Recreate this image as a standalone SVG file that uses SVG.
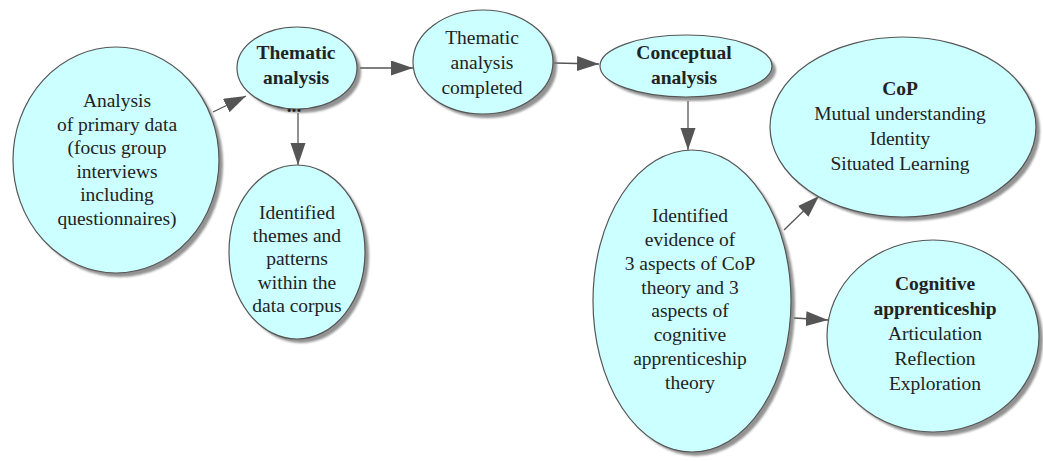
<svg xmlns="http://www.w3.org/2000/svg" width="1043" height="461" viewBox="0 0 1043 461">
<style>
.node{fill:#ccffff;stroke:#555;stroke-width:1.2}
.sh{fill:#777;opacity:0.8}
text{font-family:'Liberation Serif','Times New Roman',Times,serif;font-size:19.5px;fill:#222;text-anchor:middle}
.b{font-weight:bold}
.c{stroke:#555;stroke-width:1.3;fill:none;marker-end:url(#ah)}
</style>
<defs>
<filter id="blur" x="-10%" y="-10%" width="120%" height="120%"><feGaussianBlur stdDeviation="1.2"/></filter>
<marker id="ah" markerUnits="userSpaceOnUse" markerWidth="24" markerHeight="16" refX="22" refY="7.5" orient="auto" viewBox="0 0 24 16">
<path d="M0,0 L22,7.5 L0,15 Z" fill="#555"/>
</marker>
</defs>
<rect width="1043" height="461" fill="#ffffff"/>
<g id="connectors">
<line class="c" x1="213" y1="112" x2="246" y2="96"/>
<line class="c" x1="360" y1="68" x2="413" y2="68"/>
<line class="c" x1="554" y1="63" x2="599" y2="64"/>
<line class="c" x1="298" y1="113" x2="298" y2="165"/>
<line class="c" x1="688" y1="101" x2="688" y2="150"/>
<line class="c" x1="784" y1="230" x2="819" y2="196"/>
<line class="c" x1="794" y1="318" x2="828" y2="320"/>
</g>
<g id="n1">
<ellipse class="sh" cx="120" cy="164" rx="103" ry="113" filter="url(#blur)"/>
<ellipse class="node" cx="116" cy="160" rx="103" ry="113"/>
<text x="117" y="107">Analysis</text>
<text x="117" y="131">of primary data</text>
<text x="117" y="154">(focus group</text>
<text x="117" y="178">interviews</text>
<text x="117" y="201">including</text>
<text x="117" y="225">questionnaires)</text>
</g>
<g id="n2">
<ellipse class="sh" cx="301" cy="72" rx="60" ry="41" filter="url(#blur)"/>
<ellipse class="node" cx="297" cy="68" rx="60" ry="41"/>
<text class="b" x="296" y="59">Thematic</text>
<text class="b" x="296" y="84">analysis</text>
<text class="b" x="294" y="112">...</text>
</g>
<g id="n3">
<ellipse class="sh" cx="487" cy="66" rx="70" ry="52" filter="url(#blur)"/>
<ellipse class="node" cx="483" cy="62" rx="70" ry="52"/>
<text x="482" y="44">Thematic</text>
<text x="482" y="69">analysis</text>
<text x="482" y="94">completed</text>
</g>
<g id="n4">
<ellipse class="sh" cx="690" cy="70" rx="86" ry="31" filter="url(#blur)"/>
<ellipse class="node" cx="686" cy="66" rx="86" ry="31"/>
<text class="b" x="684" y="59">Conceptual</text>
<text class="b" x="684" y="84">analysis</text>
</g>
<g id="n5">
<ellipse class="sh" cx="301" cy="256" rx="68" ry="87" filter="url(#blur)"/>
<ellipse class="node" cx="297" cy="252" rx="68" ry="87"/>
<text x="297" y="219">Identified</text>
<text x="297" y="242">themes and</text>
<text x="297" y="265">patterns</text>
<text x="297" y="289">within the</text>
<text x="297" y="312">data corpus</text>
</g>
<g id="n6">
<ellipse class="sh" cx="696" cy="305" rx="99" ry="151" filter="url(#blur)"/>
<ellipse class="node" cx="692" cy="301" rx="99" ry="151"/>
<text x="690" y="222">Identified</text>
<text x="690" y="246">evidence of</text>
<text x="690" y="270">3 aspects of CoP</text>
<text x="690" y="294">theory and 3</text>
<text x="690" y="317">aspects of</text>
<text x="690" y="341">cognitive</text>
<text x="690" y="365">apprenticeship</text>
<text x="690" y="389">theory</text>
</g>
<g id="n7">
<ellipse class="sh" cx="907" cy="131" rx="133" ry="90" filter="url(#blur)"/>
<ellipse class="node" cx="903" cy="127" rx="133" ry="90"/>
<text class="b" x="900" y="95">CoP</text>
<text x="900" y="120">Mutual understanding</text>
<text x="900" y="145">Identity</text>
<text x="900" y="170">Situated Learning</text>
</g>
<g id="n8">
<ellipse class="sh" cx="937" cy="340" rx="106" ry="96" filter="url(#blur)"/>
<ellipse class="node" cx="933" cy="336" rx="106" ry="96"/>
<text class="b" x="935" y="290">Cognitive</text>
<text class="b" x="935" y="315">apprenticeship</text>
<text x="935" y="340">Articulation</text>
<text x="935" y="365">Reflection</text>
<text x="935" y="390">Exploration</text>
</g>
</svg>
